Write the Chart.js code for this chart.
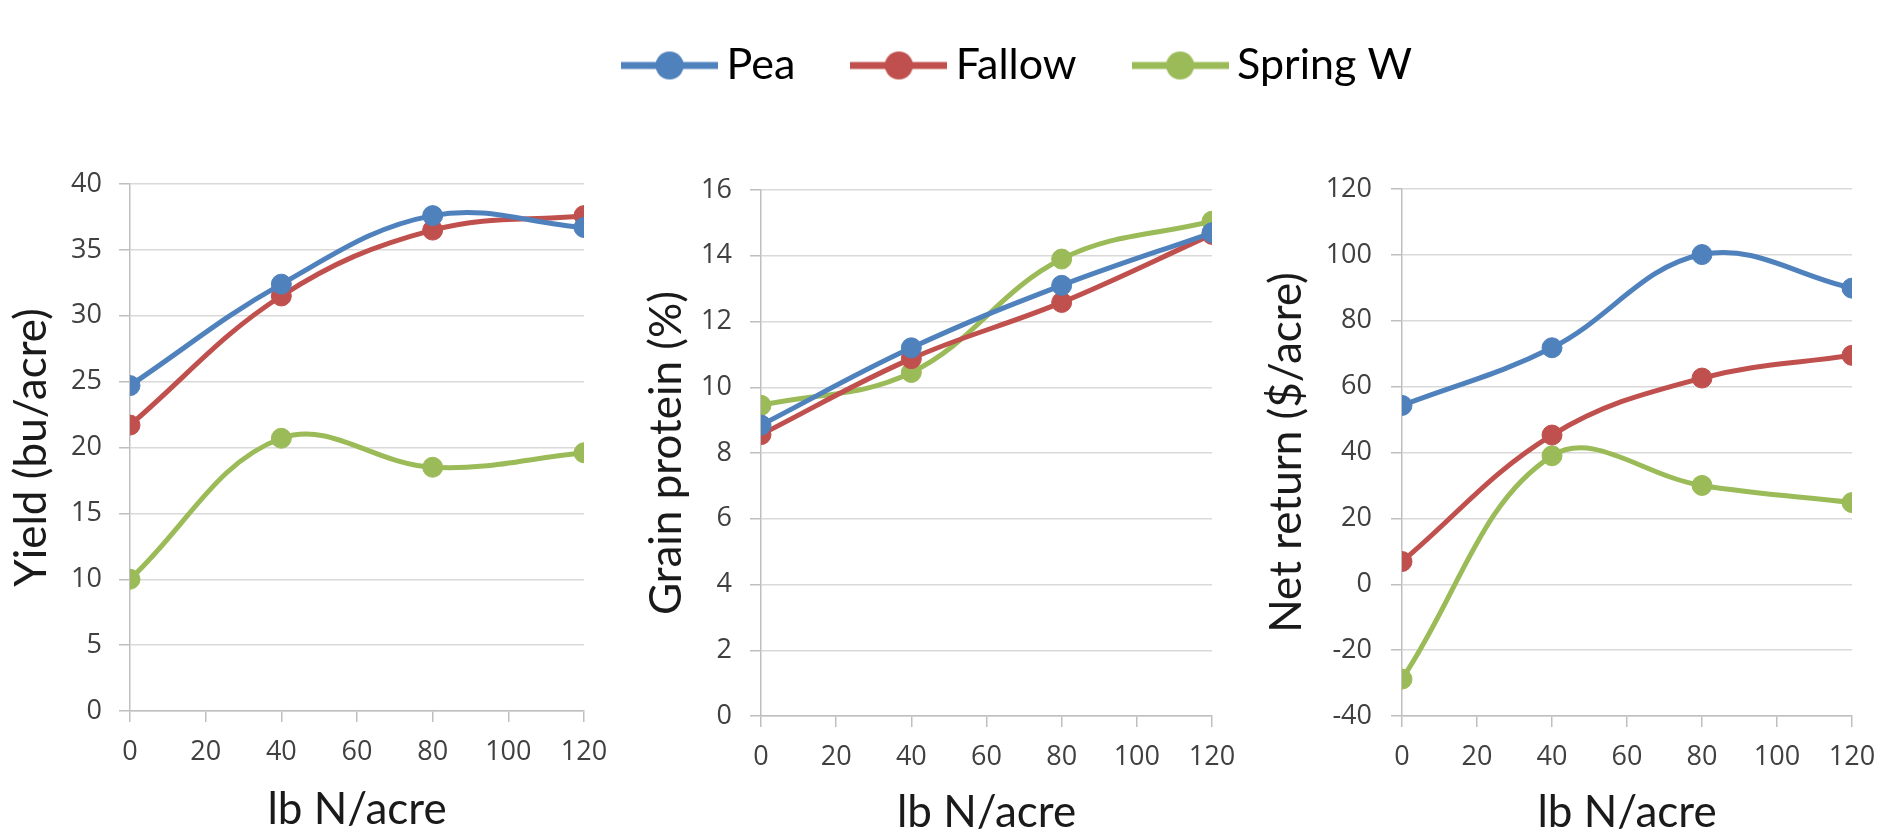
<!DOCTYPE html>
<html>
<head>
<meta charset="utf-8">
<script src="https://cdn.jsdelivr.net/npm/chart.js@4"></script>
<style>
  body { margin: 0; background: #fff; width: 1883px; height: 839px; overflow: hidden; position: relative; }
  canvas { position: absolute; }
</style>
</head>
<body>
<canvas id="legend" width="1716" height="400" style="left:165px; top:-24px; pointer-events:none;"></canvas>
<canvas id="yield-chart" width="629" height="695" style="left:0px; top:144px;"></canvas>
<canvas id="protein-chart" width="623" height="689" style="left:631px; top:150px;"></canvas>
<canvas id="return-chart" width="642" height="690" style="left:1255px; top:149px;"></canvas>
<script>
// nitrogen rates (lb N/acre)
var nRates = [0, 40, 80, 120];
var seriesNames = ['Pea', 'Fallow', 'Spring W'];
var seriesColors = ['#4F81BD', '#C0504D', '#9BBB59'];

// yield (bu/acre)
var yieldPea = [24.7, 32.4, 37.6, 36.7];
var yieldFallow = [21.7, 31.5, 36.5, 37.6];
var yieldSpring = [10.0, 20.7, 18.5, 19.6];

// grain protein (%)
var proteinPea = [8.85, 11.2, 13.1, 14.7];
var proteinFallow = [8.56, 10.87, 12.58, 14.65];
var proteinSpring = [9.45, 10.45, 13.9, 15.05];

// net return ($/acre)
var returnPea = [54.3, 71.8, 100.1, 89.9];
var returnFallow = [6.9, 45.3, 62.6, 69.5];
var returnSpring = [-28.8, 39.0, 30.0, 24.8];

var tickFont = { family: '"Open Sans", sans-serif', size: 27 };
var titleFont = { family: 'Lato, sans-serif', size: 44 };
var legendFont = { family: 'Lato, sans-serif', size: 43 };

// turns a value array into x/y points
function toPoints(values) {
    var points = [];
    for (var i = 0; i < values.length; i++) {
        points.push({ x: nRates[i], y: values[i] });
    }
    return points;
}

function makeDatasets(seriesList) {
    return seriesList.map(function(values, i) {
        return {
            label: seriesNames[i],
            data: toPoints(values),
            borderColor: seriesColors[i],
            backgroundColor: seriesColors[i],
            pointBackgroundColor: seriesColors[i],
            pointBorderColor: seriesColors[i],
            borderWidth: 5,
            pointRadius: 10,
            pointBorderWidth: 1,
            tension: 0.38,
            fill: false
        };
    });
}

// creates one of the three panels
function createPanel(id, seriesList, yTitle, yMin, yMax, yStep, lay) {
    var ctx = document.getElementById(id).getContext('2d');
    return new Chart(ctx, {
        type: 'line',
        data: { datasets: makeDatasets(seriesList) },
        options: {
            responsive: false,
            animation: false,
            layout: { padding: { top: 40, right: lay.padRight, bottom: 0, left: 0 } },
            plugins: { legend: { display: false }, tooltip: { enabled: false } },
            scales: {
                x: {
                    type: 'linear',
                    min: 0,
                    max: 120,
                    ticks: { stepSize: 20, font: tickFont, color: '#404040', padding: 14 },
                    grid: { drawOnChartArea: false, drawTicks: true, tickLength: 11, tickColor: '#BFBFBF', lineWidth: 1.5 },
                    border: { color: '#BFBFBF', width: 1.5 },
                    title: { display: true, text: 'lb N/acre', font: titleFont, color: '#1a1a1a', padding: { top: 0, bottom: lay.xTitlePad } },
                    afterFit: function(scale) { scale.height = lay.xHeight; }
                },
                y: {
                    min: yMin,
                    max: yMax,
                    ticks: { stepSize: yStep, font: tickFont, color: '#404040', padding: lay.yTickPad },
                    grid: { color: '#D9D9D9', lineWidth: 1.5, tickLength: 11, tickColor: '#BFBFBF' },
                    border: { color: '#BFBFBF', width: 1.5 },
                    title: { display: true, text: yTitle, font: titleFont, color: '#1a1a1a', padding: { top: lay.yTitlePad, bottom: 0 } },
                    afterFit: function(scale) { scale.width = lay.yWidth; }
                }
            }
        }
    });
}

// legend icon: a short line with a dot in the middle
function makeLegendIcon(color) {
    var c = document.createElement('canvas');
    c.width = 97;
    c.height = 32;
    var g = c.getContext('2d');
    g.strokeStyle = color;
    g.lineWidth = 7;
    g.beginPath();
    g.moveTo(0, 16);
    g.lineTo(97, 16);
    g.stroke();
    g.fillStyle = color;
    g.beginPath();
    g.arc(48.5, 16, 14, 0, Math.PI * 2);
    g.fill();
    return c;
}

function createLegend() {
    var icons = seriesColors.map(makeLegendIcon);
    var ctx = document.getElementById('legend').getContext('2d');
    return new Chart(ctx, {
        type: 'line',
        data: {
            datasets: seriesNames.map(function(name, i) {
                return { label: name, data: [], borderColor: seriesColors[i], backgroundColor: seriesColors[i] };
            })
        },
        options: {
            responsive: false,
            animation: false,
            scales: { x: { display: false }, y: { display: false } },
            plugins: {
                tooltip: { enabled: false },
                legend: {
                    display: true,
                    position: 'top',
                    labels: {
                        usePointStyle: true,
                        pointStyleWidth: 71,
                        padding: 68,
                        color: '#000',
                        font: legendFont,
                        generateLabels: function(chart) {
                            return chart.data.datasets.map(function(ds, i) {
                                return {
                                    text: ds.label,
                                    pointStyle: icons[i],
                                    fillStyle: ds.borderColor,
                                    strokeStyle: ds.borderColor,
                                    lineWidth: 0,
                                    hidden: false,
                                    datasetIndex: i
                                };
                            });
                        }
                    }
                }
            }
        }
    });
}

createLegend();
createPanel('yield-chart', [yieldPea, yieldFallow, yieldSpring], 'Yield (bu/acre)', 0, 40, 5,
    { padRight: 45, yWidth: 130, yTickPad: 17, yTitlePad: 5, xHeight: 128, xTitlePad: 3 });
createPanel('protein-chart', [proteinPea, proteinFallow, proteinSpring], 'Grain protein (%)', 0, 16, 2,
    { padRight: 42, yWidth: 130, yTickPad: 18, yTitlePad: 9, xHeight: 123, xTitlePad: 0 });
createPanel('return-chart', [returnPea, returnFallow, returnSpring], 'Net return ($/acre)', -40, 120, 20,
    { padRight: 45, yWidth: 147, yTickPad: 19, yTitlePad: 5, xHeight: 123, xTitlePad: 0 });
</script>
</body>
</html>
